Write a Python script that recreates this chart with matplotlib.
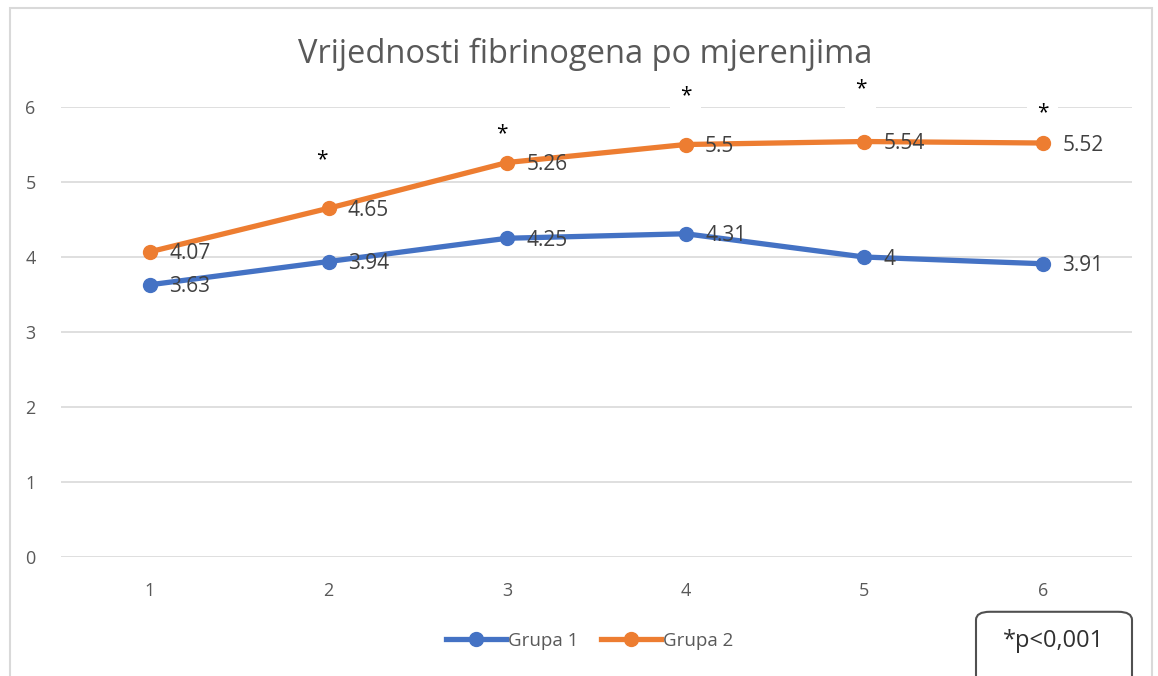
import matplotlib.pyplot as plt
from matplotlib.patches import FancyBboxPatch, Rectangle

# measurements and group means
mjerenja = [1, 2, 3, 4, 5, 6]
grupa1 = [3.63, 3.94, 4.25, 4.31, 4.00, 3.91]
grupa2 = [4.07, 4.65, 5.26, 5.50, 5.54, 5.52]
labels1 = ["3.63", "3.94", "4.25", "4.31", "4", "3.91"]
labels2 = ["4.07", "4.65", "5.26", "5.5", "5.54", "5.52"]

# significance stars (x, y in data units)
star_x = [1.96, 2.97, 4.0, 4.98, 6.0]
star_y = [5.30, 5.65, 6.15, 6.24, 5.92]

blue = "#4472C4"
orange = "#ED7D31"
grey = "#595959"

plt.rcParams['font.family'] = ['Open Sans', 'DejaVu Sans']

fig = plt.figure(figsize=(11.58, 6.76), dpi=100)
ax = fig.add_axes([0.0524, 0.176, 0.9252, 0.6657])

# outer chart border
fig.patches.append(Rectangle((10/1158, -0.1), 1142/1158, 1.1 - 8/676, transform=fig.transFigure,
                             fill=False, edgecolor="#d9d9d9", lw=1.5))

ax.plot(mjerenja, grupa1, color=blue, lw=3.8, marker="o", ms=10, label="Grupa 1", clip_on=False, zorder=3)
ax.plot(mjerenja, grupa2, color=orange, lw=3.8, marker="o", ms=10, label="Grupa 2", clip_on=False, zorder=3)

for x, y, t in zip(mjerenja, grupa1, labels1):
    ax.annotate(t, (x, y), xytext=(14, -1.5), textcoords="offset points", ha="left", va="center",
                fontsize=15, color="#404040", zorder=4)
for x, y, t in zip(mjerenja, grupa2, labels2):
    ax.annotate(t, (x, y), xytext=(14, -1.5), textcoords="offset points", ha="left", va="center",
                fontsize=15, color="#404040", zorder=4)

for x, y in zip(star_x, star_y):
    ax.text(x, y, "*", ha="center", va="center", fontsize=15, color="black", clip_on=False,
            bbox=dict(facecolor="white", edgecolor="none", pad=7), zorder=5)

ax.set_xlim(0.5, 6.5)
ax.set_ylim(0, 6)
ax.set_xticks(mjerenja)
ax.set_yticks(range(7))
ax.grid(axis="y", color="#d9d9d9", lw=1.2)
ax.set_axisbelow(True)
for s in ax.spines.values():
    s.set_visible(False)
ax.tick_params(length=0, labelsize=13, labelcolor=grey)
ax.tick_params(axis="x", pad=18)
ax.tick_params(axis="y", pad=18)

fig.text(0.505, 0.92, "Vrijednosti fibrinogena po mjerenjima", ha="center", va="center",
         fontsize=23.5, color=grey)

fig.legend(loc="center", bbox_to_anchor=(0.509, 0.052), ncol=2, frameon=False, fontsize=13.5,
           handlelength=3.2, handletextpad=0.1, columnspacing=1.2, labelcolor=grey)

# p-value box
fig.patches.append(FancyBboxPatch((976/1158, -0.02), 156/1158, 0.115, transform=fig.transFigure,
                                  boxstyle="round,pad=0,rounding_size=0.012", fill=False,
                                  edgecolor="#505050", lw=1.5))
fig.text(1054/1158, 1 - 641/676, "*p<0,001", ha="center", va="center", fontsize=17, color="#303030")

plt.savefig("out.png", dpi=100)
